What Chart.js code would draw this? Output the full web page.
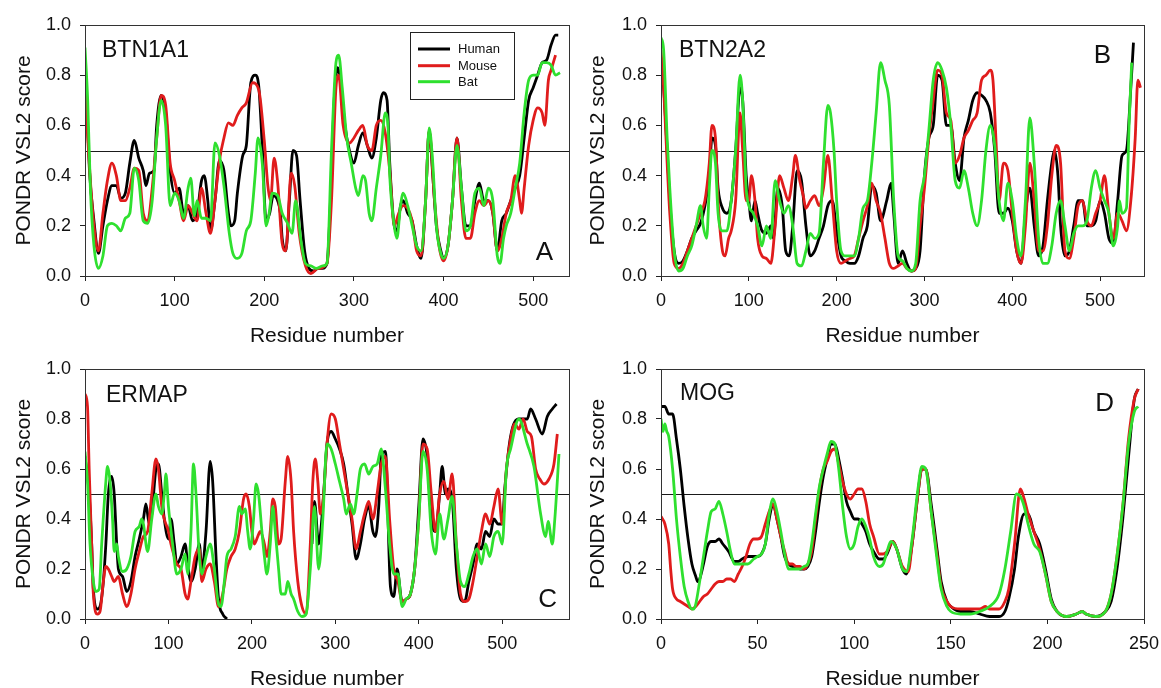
<!DOCTYPE html>
<html><head><meta charset="utf-8">
<script src="https://cdn.jsdelivr.net/npm/chart.js@4/dist/chart.umd.min.js"></script>
<style>
html,body{margin:0;padding:0;background:#fff;overflow:hidden;width:1161px;height:688px;position:relative}
canvas{position:absolute}
</style></head><body>
<canvas id="cA" width="580" height="360" style="left:0;top:0"></canvas>
<canvas id="cB" width="581" height="360" style="left:580px;top:0"></canvas>
<canvas id="cC" width="580" height="360" style="left:0;top:344px"></canvas>
<canvas id="cD" width="581" height="360" style="left:580px;top:344px"></canvas>
<script>
// ---------- DATA: [residue, PONDR VSL2 score] ----------
const species = ['Human', 'Mouse', 'Bat'];
const proteins = ['BTN1A1', 'BTN2A2', 'ERMAP', 'MOG'];
const panelLetters = ['A', 'B', 'C', 'D'];
const yTickValues = [0, 0.2, 0.4, 0.6, 0.8, 1.0];
const cutoff = 0.5;

const btn1a1Human = [[0,0.82],[3,0.6],[5,0.42],[10,0.22],[15,0.09],[20,0.2],[25,0.3],[30,0.36],[35,0.36],[40,0.31],[45,0.33],[50,0.45],[55,0.54],[60,0.47],[65,0.42],[68,0.36],[72,0.41],[77,0.42],[80,0.6],[85,0.72],[90,0.65],[95,0.42],[100,0.33],[105,0.35],[110,0.25],[115,0.28],[120,0.22],[125,0.25],[130,0.38],[133,0.4],[137,0.3],[140,0.18],[145,0.3],[150,0.46],[155,0.42],[160,0.25],[163,0.2],[167,0.22],[170,0.33],[176,0.48],[180,0.52],[185,0.77],[190,0.8],[194,0.75],[198,0.5],[202,0.22],[206,0.25],[210,0.32],[215,0.3],[218,0.25],[220,0.15],[224,0.1],[228,0.3],[232,0.5],[236,0.48],[240,0.3],[245,0.1],[250,0.03],[255,0.02],[260,0.03],[265,0.03],[270,0.05],[275,0.4],[278,0.7],[282,0.83],[285,0.78],[290,0.6],[295,0.5],[300,0.45],[305,0.52],[310,0.57],[315,0.52],[320,0.47],[325,0.55],[330,0.7],[333,0.73],[337,0.7],[340,0.45],[345,0.2],[348,0.18],[352,0.28],[355,0.3],[360,0.25],[365,0.22],[370,0.12],[375,0.07],[380,0.3],[384,0.58],[388,0.4],[392,0.2],[397,0.1],[400,0.07],[405,0.12],[410,0.3],[415,0.55],[420,0.35],[425,0.2],[430,0.2],[435,0.3],[440,0.37],[445,0.3],[450,0.3],[455,0.25],[460,0.1],[465,0.22],[470,0.25],[475,0.3],[480,0.35],[485,0.4],[490,0.55],[495,0.7],[500,0.75],[505,0.8],[510,0.85],[515,0.86],[520,0.92],[525,0.96],[528,0.96]];
const btn1a1Mouse = [[0,0.75],[3,0.55],[6,0.38],[10,0.2],[15,0.1],[20,0.25],[25,0.38],[30,0.45],[35,0.4],[40,0.3],[45,0.3],[50,0.35],[55,0.43],[60,0.42],[65,0.25],[70,0.22],[75,0.35],[80,0.55],[85,0.72],[90,0.68],[95,0.45],[100,0.38],[105,0.3],[110,0.22],[115,0.28],[120,0.25],[125,0.22],[130,0.35],[135,0.25],[140,0.17],[145,0.3],[150,0.46],[155,0.55],[160,0.61],[165,0.6],[170,0.64],[175,0.67],[180,0.69],[187,0.77],[194,0.74],[200,0.54],[204,0.36],[207,0.3],[211,0.47],[215,0.37],[220,0.13],[224,0.1],[230,0.41],[234,0.36],[239,0.17],[246,0.04],[252,0.01],[260,0.03],[270,0.05],[275,0.3],[280,0.75],[283,0.8],[288,0.6],[295,0.53],[300,0.55],[305,0.58],[310,0.6],[315,0.52],[320,0.5],[325,0.6],[330,0.62],[335,0.57],[340,0.42],[345,0.2],[350,0.25],[355,0.28],[360,0.27],[365,0.22],[370,0.1],[375,0.08],[380,0.3],[384,0.58],[390,0.3],[395,0.12],[400,0.06],[405,0.12],[410,0.3],[415,0.55],[420,0.3],[425,0.15],[430,0.15],[435,0.25],[440,0.3],[445,0.28],[450,0.3],[455,0.25],[460,0.1],[465,0.15],[470,0.25],[475,0.3],[480,0.4],[485,0.3],[487,0.25],[490,0.35],[495,0.52],[500,0.62],[505,0.67],[510,0.65],[513,0.6],[517,0.78],[520,0.82],[525,0.88]];
const btn1a1Bat = [[0,0.91],[3,0.7],[6,0.35],[10,0.12],[15,0.03],[20,0.08],[25,0.2],[30,0.21],[35,0.2],[40,0.18],[45,0.23],[50,0.25],[55,0.43],[60,0.38],[65,0.22],[70,0.21],[75,0.3],[80,0.55],[85,0.7],[90,0.6],[95,0.28],[100,0.33],[105,0.3],[110,0.23],[115,0.35],[118,0.39],[122,0.24],[125,0.3],[130,0.23],[135,0.23],[140,0.22],[145,0.53],[150,0.48],[155,0.36],[161,0.17],[165,0.09],[170,0.07],[175,0.09],[180,0.18],[185,0.22],[190,0.41],[193,0.55],[198,0.44],[202,0.2],[205,0.24],[209,0.33],[215,0.32],[220,0.25],[226,0.21],[231,0.17],[235,0.3],[241,0.14],[246,0.05],[252,0.04],[258,0.03],[265,0.04],[270,0.05],[275,0.5],[280,0.85],[283,0.88],[287,0.75],[292,0.55],[297,0.45],[302,0.35],[305,0.32],[310,0.4],[313,0.38],[317,0.25],[320,0.22],[325,0.35],[330,0.48],[335,0.65],[338,0.6],[340,0.4],[345,0.2],[348,0.15],[352,0.28],[355,0.33],[360,0.28],[365,0.2],[370,0.12],[375,0.1],[380,0.3],[384,0.59],[388,0.45],[392,0.2],[397,0.09],[400,0.07],[405,0.12],[410,0.3],[415,0.52],[420,0.35],[425,0.18],[430,0.2],[435,0.33],[440,0.35],[445,0.28],[450,0.35],[455,0.3],[460,0.08],[463,0.05],[467,0.15],[470,0.2],[475,0.25],[480,0.35],[485,0.45],[490,0.65],[495,0.78],[500,0.8],[505,0.8],[510,0.85],[515,0.85],[520,0.84],[525,0.8],[530,0.81]];

const btn2a2Human = [[0,0.82],[3,0.75],[7,0.5],[10,0.3],[15,0.1],[20,0.05],[25,0.06],[30,0.1],[35,0.15],[40,0.18],[45,0.21],[50,0.28],[55,0.4],[58,0.55],[62,0.52],[65,0.35],[70,0.27],[75,0.25],[80,0.3],[85,0.5],[90,0.75],[93,0.7],[97,0.4],[100,0.3],[103,0.22],[107,0.3],[110,0.25],[115,0.18],[120,0.17],[125,0.2],[128,0.15],[133,0.35],[138,0.28],[142,0.1],[146,0.08],[150,0.2],[155,0.42],[160,0.38],[165,0.2],[170,0.08],[175,0.1],[180,0.15],[185,0.2],[190,0.28],[195,0.3],[200,0.18],[205,0.08],[210,0.06],[215,0.05],[220,0.05],[225,0.08],[230,0.15],[235,0.2],[240,0.36],[245,0.33],[250,0.22],[257,0.3],[262,0.37],[265,0.25],[270,0.05],[275,0.1],[280,0.05],[285,0.02],[290,0.03],[295,0.1],[300,0.4],[305,0.55],[310,0.6],[315,0.8],[320,0.78],[325,0.6],[330,0.6],[335,0.45],[340,0.38],[345,0.55],[350,0.62],[355,0.7],[360,0.73],[365,0.72],[370,0.7],[375,0.65],[380,0.5],[385,0.25],[390,0.25],[395,0.27],[400,0.22],[405,0.1],[410,0.05],[415,0.25],[420,0.35],[425,0.2],[430,0.08],[435,0.12],[440,0.3],[445,0.45],[448,0.5],[452,0.4],[455,0.2],[460,0.08],[465,0.1],[470,0.2],[475,0.3],[480,0.3],[485,0.2],[490,0.2],[495,0.22],[500,0.3],[505,0.25],[510,0.15],[515,0.13],[520,0.3],[525,0.48],[530,0.5],[535,0.75],[538,0.93]];
const btn2a2Mouse = [[0,0.9],[3,0.75],[7,0.45],[10,0.25],[15,0.05],[20,0.03],[25,0.05],[30,0.1],[35,0.15],[40,0.2],[45,0.25],[50,0.3],[55,0.45],[58,0.6],[62,0.55],[65,0.3],[70,0.1],[73,0.08],[77,0.15],[80,0.18],[85,0.3],[90,0.65],[93,0.5],[97,0.3],[100,0.3],[103,0.4],[107,0.3],[110,0.15],[115,0.08],[120,0.07],[125,0.05],[130,0.2],[135,0.4],[140,0.35],[145,0.3],[150,0.4],[153,0.48],[158,0.38],[162,0.32],[165,0.27],[170,0.3],[175,0.32],[180,0.28],[185,0.35],[190,0.48],[195,0.3],[200,0.1],[205,0.05],[210,0.06],[215,0.07],[220,0.08],[225,0.15],[230,0.22],[235,0.28],[240,0.37],[245,0.3],[250,0.25],[255,0.15],[260,0.05],[265,0.03],[270,0.04],[275,0.05],[280,0.03],[285,0.02],[290,0.03],[295,0.2],[300,0.35],[305,0.55],[310,0.7],[315,0.82],[320,0.8],[325,0.65],[330,0.62],[335,0.45],[340,0.48],[345,0.55],[350,0.58],[355,0.62],[360,0.65],[365,0.78],[370,0.8],[375,0.82],[378,0.78],[382,0.5],[385,0.3],[390,0.45],[395,0.42],[400,0.25],[405,0.1],[410,0.05],[415,0.2],[420,0.45],[425,0.3],[430,0.1],[435,0.1],[440,0.2],[445,0.4],[450,0.52],[455,0.45],[460,0.1],[465,0.07],[470,0.15],[475,0.28],[480,0.3],[485,0.22],[490,0.2],[495,0.25],[500,0.3],[505,0.4],[510,0.25],[515,0.15],[520,0.25],[525,0.22],[530,0.18],[535,0.3],[540,0.55],[543,0.78],[546,0.75]];
const btn2a2Bat = [[0,0.95],[3,0.9],[7,0.55],[10,0.35],[15,0.1],[20,0.02],[25,0.03],[30,0.08],[35,0.12],[40,0.2],[45,0.28],[48,0.2],[52,0.15],[55,0.35],[58,0.5],[62,0.45],[65,0.25],[70,0.18],[75,0.18],[80,0.3],[85,0.5],[90,0.8],[93,0.7],[97,0.35],[100,0.28],[105,0.25],[110,0.2],[115,0.12],[120,0.2],[125,0.15],[130,0.38],[135,0.3],[140,0.25],[145,0.28],[150,0.2],[155,0.05],[160,0.04],[165,0.1],[170,0.17],[175,0.15],[180,0.17],[185,0.45],[190,0.68],[193,0.65],[197,0.5],[200,0.3],[205,0.1],[210,0.08],[220,0.08],[225,0.15],[230,0.27],[235,0.3],[240,0.45],[245,0.65],[250,0.85],[255,0.78],[260,0.68],[265,0.3],[270,0.08],[275,0.06],[280,0.03],[285,0.02],[290,0.05],[295,0.3],[300,0.4],[305,0.58],[310,0.78],[315,0.85],[320,0.82],[325,0.75],[330,0.6],[335,0.38],[340,0.35],[345,0.42],[350,0.35],[355,0.25],[360,0.2],[365,0.3],[370,0.5],[375,0.6],[380,0.52],[385,0.3],[390,0.22],[395,0.37],[400,0.3],[405,0.15],[410,0.08],[415,0.3],[420,0.63],[425,0.45],[430,0.15],[435,0.05],[440,0.05],[445,0.12],[450,0.25],[455,0.3],[460,0.2],[465,0.1],[470,0.17],[475,0.2],[480,0.2],[485,0.22],[490,0.35],[495,0.42],[500,0.35],[505,0.3],[510,0.25],[515,0.12],[520,0.2],[522,0.3],[525,0.25],[530,0.27],[533,0.6],[536,0.85]];

const ermapHuman = [[0,0.65],[5,0.5],[8,0.3],[10,0.12],[15,0.04],[18,0.05],[22,0.15],[25,0.3],[28,0.5],[32,0.57],[35,0.5],[38,0.3],[40,0.2],[45,0.17],[50,0.11],[55,0.15],[60,0.25],[65,0.32],[70,0.4],[73,0.46],[77,0.38],[80,0.42],[85,0.6],[88,0.62],[92,0.5],[95,0.4],[100,0.32],[103,0.4],[107,0.3],[110,0.22],[115,0.25],[120,0.3],[123,0.22],[127,0.15],[132,0.2],[137,0.3],[140,0.2],[145,0.35],[150,0.63],[153,0.55],[157,0.25],[160,0.08],[165,0.02],[170,0.0],[172,null],[272,0.3],[275,0.47],[280,0.3],[285,0.45],[290,0.7],[295,0.75],[300,0.72],[305,0.68],[310,0.62],[315,0.5],[320,0.38],[325,0.24],[330,0.3],[335,0.4],[340,0.45],[345,0.35],[348,0.33],[352,0.45],[355,0.65],[360,0.67],[366,0.13],[370,0.09],[374,0.2],[380,0.07],[385,0.08],[390,0.1],[395,0.2],[400,0.45],[405,0.72],[410,0.65],[415,0.4],[420,0.35],[425,0.5],[428,0.61],[432,0.5],[435,0.52],[440,0.48],[445,0.2],[450,0.08],[455,0.07],[460,0.15],[465,0.22],[470,0.3],[475,0.28],[480,0.35],[485,0.33],[490,0.4],[495,0.38],[500,0.38],[503,0.52],[510,0.73],[520,0.8],[530,0.8],[534,0.84],[540,0.8],[548,0.74],[554,0.81],[560,0.84],[565,0.86]];
const ermapMouse = [[0,0.9],[3,0.85],[5,0.6],[8,0.3],[10,0.1],[15,0.02],[18,0.03],[22,0.15],[25,0.21],[28,0.2],[32,0.17],[35,0.15],[40,0.17],[45,0.1],[50,0.05],[55,0.1],[60,0.2],[65,0.27],[70,0.33],[75,0.35],[80,0.5],[85,0.64],[88,0.6],[92,0.45],[95,0.4],[100,0.35],[103,0.3],[107,0.25],[110,0.22],[115,0.2],[120,0.1],[123,0.08],[127,0.15],[132,0.25],[137,0.28],[140,0.15],[145,0.2],[150,0.22],[155,0.15],[160,0.05],[165,0.1],[170,0.2],[175,0.25],[180,0.28],[185,0.35],[190,0.48],[193,0.5],[197,0.45],[200,0.35],[203,0.3],[207,0.33],[210,0.35],[215,0.3],[218,0.25],[222,0.35],[225,0.48],[228,0.45],[232,0.3],[235,0.32],[240,0.55],[243,0.65],[247,0.55],[250,0.35],[255,0.15],[260,0.05],[265,0.02],[270,0.3],[273,0.55],[276,0.64],[279,0.55],[282,0.42],[286,0.5],[290,0.7],[295,0.82],[300,0.8],[305,0.7],[310,0.6],[315,0.5],[320,0.4],[325,0.28],[330,0.35],[335,0.42],[340,0.47],[345,0.4],[350,0.5],[355,0.62],[360,0.65],[365,0.4],[370,0.2],[375,0.15],[380,0.07],[385,0.08],[390,0.1],[395,0.2],[400,0.4],[405,0.7],[410,0.68],[415,0.5],[420,0.35],[425,0.5],[430,0.55],[435,0.48],[440,0.58],[445,0.3],[450,0.1],[455,0.07],[460,0.08],[465,0.15],[470,0.25],[475,0.35],[480,0.42],[485,0.38],[490,0.45],[495,0.52],[500,0.38],[505,0.6],[510,0.72],[515,0.78],[520,0.76],[525,0.8],[530,0.75],[535,0.73],[540,0.6],[545,0.56],[550,0.54],[556,0.56],[562,0.62],[566,0.74]];
const ermapBat = [[0,0.67],[3,0.55],[6,0.3],[10,0.15],[13,0.11],[17,0.12],[20,0.3],[25,0.55],[27,0.61],[30,0.55],[33,0.4],[35,0.27],[38,0.3],[40,0.25],[45,0.19],[50,0.2],[55,0.25],[60,0.35],[65,0.37],[68,0.4],[70,0.38],[75,0.27],[80,0.4],[85,0.5],[88,0.45],[92,0.42],[95,0.5],[97,0.58],[100,0.45],[105,0.3],[110,0.18],[115,0.2],[120,0.26],[123,0.18],[127,0.35],[130,0.62],[133,0.5],[137,0.25],[140,0.18],[145,0.25],[150,0.3],[155,0.2],[160,0.06],[163,0.05],[167,0.15],[170,0.25],[175,0.28],[180,0.33],[185,0.45],[188,0.42],[192,0.44],[195,0.35],[198,0.28],[202,0.4],[205,0.54],[208,0.5],[212,0.35],[215,0.25],[218,0.18],[222,0.3],[225,0.45],[228,0.35],[232,0.2],[235,0.1],[240,0.1],[243,0.15],[247,0.1],[250,0.08],[255,0.03],[260,0.01],[265,0.02],[270,0.2],[275,0.45],[280,0.2],[285,0.4],[290,0.7],[295,0.68],[300,0.62],[305,0.55],[310,0.48],[313,0.42],[318,0.46],[322,0.42],[326,0.5],[330,0.6],[335,0.62],[340,0.58],[345,0.61],[350,0.62],[355,0.68],[360,0.52],[365,0.3],[370,0.18],[375,0.18],[380,0.05],[385,0.08],[390,0.1],[395,0.2],[400,0.4],[405,0.67],[410,0.6],[415,0.35],[420,0.26],[425,0.42],[430,0.32],[435,0.4],[440,0.49],[445,0.3],[450,0.15],[455,0.13],[460,0.18],[465,0.25],[470,0.28],[475,0.22],[480,0.3],[485,0.25],[490,0.33],[495,0.35],[500,0.3],[505,0.6],[510,0.68],[520,0.8],[530,0.7],[538,0.61],[546,0.42],[552,0.33],[555,0.39],[560,0.3],[563,0.4],[568,0.66]];

const mogHuman = [[0,0.85],[2,0.85],[4,0.82],[6,0.82],[8,0.72],[10,0.6],[12,0.45],[14,0.32],[16,0.22],[18,0.17],[19,0.15],[20,0.16],[22,0.22],[24,0.29],[26,0.31],[28,0.31],[30,0.32],[32,0.3],[35,0.27],[38,0.23],[40,0.23],[42,0.24],[45,0.25],[48,0.25],[50,0.25],[52,0.26],[54,0.3],[56,0.4],[58,0.46],[60,0.4],[62,0.33],[64,0.25],[66,0.22],[68,0.21],[70,0.21],[72,0.2],[74,0.2],[76,0.21],[78,0.25],[80,0.35],[82,0.47],[84,0.57],[86,0.64],[88,0.7],[90,0.7],[92,0.64],[94,0.56],[96,0.47],[98,0.43],[100,0.4],[102,0.4],[104,0.38],[106,0.35],[108,0.3],[110,0.27],[113,0.24],[115,0.24],[117,0.26],[120,0.31],[122,0.28],[125,0.2],[127,0.18],[130,0.3],[133,0.5],[135,0.6],[137,0.6],[140,0.45],[143,0.27],[145,0.15],[148,0.07],[150,0.05],[155,0.03],[160,0.03],[165,0.02],[170,0.01],[175,0.01],[178,0.03],[180,0.08],[183,0.2],[185,0.33],[188,0.42],[190,0.42],[193,0.35],[196,0.3],[199,0.2],[202,0.08],[205,0.03],[210,0.01],[215,0.02],[218,0.03],[220,0.02],[225,0.01],[230,0.03],[233,0.07],[236,0.2],[239,0.4],[242,0.65],[245,0.88],[247,0.92]];
const mogMouse = [[0,0.41],[2,0.38],[4,0.3],[5,0.2],[6,0.12],[8,0.08],[10,0.07],[12,0.06],[14,0.05],[16,0.04],[18,0.05],[20,0.07],[22,0.09],[24,0.1],[26,0.12],[28,0.14],[30,0.15],[32,0.15],[34,0.16],[36,0.16],[38,0.15],[40,0.18],[42,0.21],[44,0.25],[46,0.3],[48,0.32],[50,0.32],[52,0.33],[54,0.38],[56,0.43],[58,0.46],[60,0.4],[62,0.33],[64,0.27],[66,0.22],[68,0.22],[70,0.21],[72,0.21],[74,0.2],[76,0.22],[78,0.27],[80,0.4],[82,0.52],[84,0.6],[86,0.63],[88,0.67],[90,0.68],[92,0.62],[94,0.55],[96,0.5],[98,0.48],[100,0.5],[102,0.52],[104,0.52],[106,0.47],[108,0.38],[110,0.33],[113,0.26],[115,0.26],[117,0.27],[120,0.31],[122,0.28],[125,0.21],[128,0.19],[130,0.3],[133,0.5],[135,0.6],[137,0.6],[140,0.42],[143,0.25],[145,0.13],[148,0.07],[150,0.05],[155,0.04],[160,0.04],[165,0.04],[168,0.05],[170,0.04],[175,0.04],[178,0.07],[180,0.12],[183,0.3],[186,0.52],[188,0.48],[190,0.42],[193,0.35],[196,0.28],[199,0.18],[202,0.07],[205,0.03],[210,0.01],[215,0.02],[218,0.03],[220,0.02],[225,0.01],[230,0.03],[233,0.1],[236,0.25],[239,0.45],[242,0.72],[245,0.88],[247,0.92]];
const mogBat = [[0,0.8],[1,0.75],[2,0.78],[3,0.75],[4,0.73],[6,0.6],[8,0.4],[10,0.25],[12,0.13],[14,0.07],[16,0.04],[17,0.04],[18,0.06],[20,0.15],[22,0.25],[24,0.35],[26,0.43],[28,0.44],[30,0.47],[32,0.42],[34,0.35],[36,0.27],[38,0.22],[40,0.22],[42,0.22],[45,0.22],[48,0.24],[50,0.25],[52,0.26],[54,0.3],[56,0.42],[58,0.48],[60,0.43],[62,0.35],[64,0.26],[66,0.2],[68,0.2],[70,0.2],[72,0.2],[74,0.21],[76,0.22],[78,0.3],[80,0.42],[82,0.53],[84,0.6],[86,0.66],[88,0.71],[90,0.7],[92,0.6],[94,0.45],[96,0.33],[98,0.28],[100,0.3],[102,0.37],[104,0.4],[106,0.37],[108,0.32],[110,0.25],[113,0.21],[115,0.22],[117,0.27],[119,0.31],[122,0.28],[125,0.2],[127,0.19],[130,0.32],[133,0.52],[135,0.61],[137,0.6],[140,0.42],[143,0.23],[145,0.12],[148,0.05],[150,0.03],[155,0.02],[160,0.02],[165,0.03],[170,0.05],[175,0.1],[178,0.2],[181,0.35],[184,0.5],[186,0.49],[188,0.45],[190,0.38],[193,0.3],[196,0.27],[199,0.18],[202,0.07],[205,0.03],[210,0.01],[215,0.02],[218,0.03],[220,0.02],[225,0.01],[230,0.03],[233,0.1],[236,0.25],[239,0.45],[242,0.7],[245,0.83],[247,0.85]];

// ---------- STYLE ----------
const colors = ['#000000', '#e01c1c', '#2fe02f'];
const FONT = "'Liberation Sans', Arial, Helvetica, sans-serif";

const panels = [
  {id:'cA', series:[btn1a1Human,btn1a1Mouse,btn1a1Bat], xMax:540, xStep:100, yW:85, padTop:25, padRight:11, xH:84, yTitlePad:12, xTitlePad:11, nameDx:17, nameDy:31.7, letterDx:16, letterDy:-16, letterBottom:true, legend:true},
  {id:'cB', series:[btn2a2Human,btn2a2Mouse,btn2a2Bat], xMax:550, xStep:100, yW:81, padTop:25, padRight:17, xH:84, yTitlePad:6, xTitlePad:11, nameDx:18, nameDy:31.7, letterDx:33, letterDy:38, letterBottom:false, legend:false},
  {id:'cC', series:[ermapHuman,ermapMouse,ermapBat], xMax:580, xStep:100, yW:85, padTop:25, padRight:11, xH:85, yTitlePad:12, xTitlePad:12, nameDx:21, nameDy:33, letterDx:12, letterDy:-12, letterBottom:true, legend:false},
  {id:'cD', series:[mogHuman,mogMouse,mogBat], xMax:250, xStep:50, yW:81, padTop:25, padRight:17, xH:85, yTitlePad:6, xTitlePad:12, nameDx:19, nameDy:31.4, letterDx:30, letterDy:42, letterBottom:false, legend:false}
];

const decor = {
  id: 'decor',
  beforeDatasetsDraw(chart, args, opts) {
    const ctx = chart.ctx, a = chart.chartArea, y = chart.scales.y.getPixelForValue(cutoff);
    ctx.save();
    ctx.strokeStyle = '#1a1a1a'; ctx.lineWidth = 1;
    ctx.beginPath(); ctx.moveTo(a.left, Math.round(y) + 0.5); ctx.lineTo(a.right, Math.round(y) + 0.5); ctx.stroke();
    ctx.restore();
  },
  afterDatasetsDraw(chart, args, opts) {
    const ctx = chart.ctx, a = chart.chartArea;
    ctx.save();
    ctx.strokeStyle = '#333'; ctx.lineWidth = 1;
    ctx.strokeRect(Math.round(a.left) + 0.5, Math.round(a.top) + 0.5, Math.round(a.right - a.left), Math.round(a.bottom - a.top));
    ctx.fillStyle = '#111';
    ctx.textBaseline = 'alphabetic';
    ctx.font = '23px ' + FONT; ctx.textAlign = 'left';
    ctx.fillText(opts.name, a.left + opts.p.nameDx, a.top + opts.p.nameDy);
    ctx.font = '26px ' + FONT; ctx.textAlign = 'right';
    const ly = opts.p.letterBottom ? a.bottom + opts.p.letterDy : a.top + opts.p.letterDy;
    ctx.fillText(opts.letter, a.right - opts.p.letterDx, ly);
    if (opts.p.legend) {
      const bx = a.left + 325, by = a.top + 7, bw = 104, bh = 67;
      ctx.fillStyle = '#fff'; ctx.fillRect(bx, by, bw, bh);
      ctx.strokeStyle = '#222'; ctx.strokeRect(bx + 0.5, by + 0.5, bw, bh);
      ctx.font = '13px ' + FONT; ctx.textAlign = 'left'; ctx.textBaseline = 'middle';
      const rows = [17, 33.7, 49.7];
      chart.data.datasets.slice().sort((d1, d2) => d1.sIdx - d2.sIdx).forEach((ds, i) => {
        ctx.strokeStyle = ds.borderColor; ctx.lineWidth = 3;
        ctx.beginPath(); ctx.moveTo(bx + 8, by + rows[i]); ctx.lineTo(bx + 40, by + rows[i]); ctx.stroke();
        ctx.fillStyle = '#111'; ctx.fillText(ds.label, bx + 48, by + rows[i] + 0.5);
      });
    }
    ctx.restore();
  }
};

panels.forEach((p, k) => {
  const datasets = p.series.map((s, i) => ({
    label: species[i],
    sIdx: i,
    data: s.map(d => ({x: d[0], y: d[1]})),
    borderColor: colors[i],
    borderWidth: 2.8,
    pointRadius: 0,
    fill: false,
    cubicInterpolationMode: 'monotone',
    spanGaps: false,
    order: 2 - i
  }));
  new Chart(document.getElementById(p.id), {
    type: 'line',
    data: {datasets},
    plugins: [decor],
    options: {
      responsive: false,
      animation: false,
      devicePixelRatio: 1,
      layout: {padding: {top: p.padTop, right: p.padRight, left: 0, bottom: 0}},
      plugins: {
        legend: {display: false},
        tooltip: {enabled: false},
        decor: {name: proteins[k], letter: panelLetters[k], p}
      },
      scales: {
        x: {
          type: 'linear', min: 0, max: p.xMax,
          border: {display: true, color: '#222', width: 1},
          grid: {display: true, drawOnChartArea: false, drawTicks: true, tickLength: 5, color: '#222'},
          ticks: {stepSize: p.xStep, includeBounds: false, color: '#111', padding: 9, maxRotation: 0, autoSkip: false,
                  font: {family: FONT, size: 18}},
          title: {display: true, text: 'Residue number', color: '#111', font: {family: FONT, size: 21},
                  padding: {top: 0, bottom: p.xTitlePad}},
          afterFit(s) { s.height = p.xH; s.paddingLeft = 0; s.paddingRight = 0; }
        },
        y: {
          type: 'linear', min: 0, max: 1,
          border: {display: true, color: '#222', width: 1},
          grid: {display: true, drawOnChartArea: false, drawTicks: true, tickLength: 5, color: '#222'},
          afterBuildTicks(s) { s.ticks = yTickValues.map(v => ({value: v})); },
          ticks: {color: '#111', padding: 9, font: {family: FONT, size: 18},
                  callback: v => Number(v).toFixed(1)},
          title: {display: true, text: 'PONDR VSL2 score', color: '#111', font: {family: FONT, size: 21},
                  padding: {top: p.yTitlePad, bottom: 0}},
          afterFit(s) { s.width = p.yW; s.paddingTop = 0; s.paddingBottom = 0; }
        }
      }
    }
  });
});
</script>
</body></html>
